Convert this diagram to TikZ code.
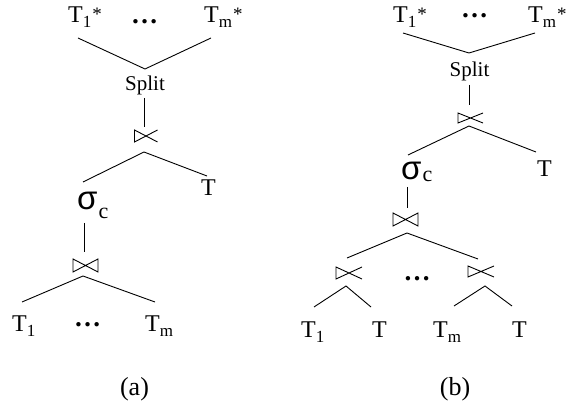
\documentclass[tikz,border=0pt]{standalone}
\usepackage{fontspec}
\setmainfont{Liberation Serif}
\newfontfamily\sigfont{Liberation Sans}
\newcommand\Tsb[1]{T\raisebox{-5pt}{\fontsize{17}{17}\selectfont #1}}
\newcommand\Tss[2]{T\raisebox{-5pt}{\fontsize{17}{17}\selectfont #1}\kern1pt\raisebox{2pt}{\fontsize{19}{19}\selectfont #2}}
\newcommand\sigc[1]{{\sigfont\fontsize{33}{33}\selectfont σ}\kern1pt\raisebox{-#1}{\fontsize{22}{22}\selectfont c}}
\newcommand\drawbowtie[1]{\draw[sym] (#1.north west) -- (#1.south east) -- (#1.north east) -- (#1.south west) -- cycle;}
\newcommand\drawsemi[1]{\draw[sym] (#1.north east) -- (#1.south west) -- (#1.north west) -- (#1.south east);}
\begin{document}
\begin{tikzpicture}[x=1pt,y=-1pt,
  lab/.style={inner sep=0pt, font=\fontsize{24}{24}\selectfont},
  splitlab/.style={inner sep=0pt, font=\fontsize{21}{21}\selectfont},
  dotslab/.style={inner sep=0pt, anchor=base, font=\fontsize{27}{27}\selectfont\bfseries},
  caplab/.style={inner sep=0pt, font=\fontsize{26}{26}\selectfont},
  joinbox/.style={inner sep=0pt, outer sep=0pt, minimum width=25pt, minimum height=12pt},
  tree/.style={line width=0.9pt},
  sym/.style={line width=0.9pt}]
\path[use as bounding box] (0,0) rectangle (571,411);

% ---------------- (a) ----------------
\node[lab, anchor=base west] (t1sa) at (68,23) {\Tss{1}{*}};
\node[dotslab] (dta) at (144.5,23.5) {…};
\node[lab, anchor=base west] (tmsa) at (204,23) {\Tss{m}{*}};
\node[splitlab, anchor=base] (spa) at (145,91) {Split};
\node[joinbox, minimum width=23pt] (ja1) at (146,136) {};
\node[lab, anchor=base west] (sca) at (77,210) {\sigc{9pt}};
\node[lab, anchor=base west] (ta) at (201,196) {T};
\node[joinbox, minimum height=13pt] (ja2) at (85.5,265.5) {};
\node[lab, anchor=base west] (t1a) at (12,332) {\Tsb{1}};
\node[dotslab] (dba) at (87.5,327) {…};
\node[lab, anchor=base west] (tma) at (145,332) {\Tsb{m}};
\node[caplab, anchor=base] (capa) at (134.5,396) {(a)};

\drawsemi{ja1}
\drawbowtie{ja2}

\draw[tree] ([shift={(10,15)}]t1sa.base west) -- ([shift={(0,-22)}]spa.base) -- ([shift={(7,15)}]tmsa.base west);
\draw[tree] ([shift={(-1,7)}]spa.base) -- ([shift={(-2,-9)}]ja1.center);
\draw[tree] ([shift={(6,-28)}]sca.base west) -- ([shift={(-2,16)}]ja1.center) -- ([shift={(6,-20)}]ta.base west);
\draw[tree] ([shift={(7,13)}]sca.base west) -- ([shift={(-1.5,-13.5)}]ja2.center);
\draw[tree] ([shift={(10,-30)}]t1a.base west) -- ([shift={(-2.5,10.5)}]ja2.center) -- ([shift={(10,-30)}]tma.base west);

% ---------------- (b) ----------------
\node[lab, anchor=base west] (t1sb) at (393,23) {\Tss{1}{*}};
\node[dotslab] (dtb) at (474.5,18) {…};
\node[lab, anchor=base west] (tmsb) at (528,23) {\Tss{m}{*}};
\node[splitlab, anchor=base] (spb) at (469.5,77) {Split};
\node[joinbox, minimum height=10pt] (jb1) at (470.5,118) {};
\node[lab, anchor=base west] (scb) at (401,180) {\sigc{2pt}};
\node[lab, anchor=base west] (tb) at (537,177) {T};
\node[joinbox, minimum height=13pt] (jb2) at (405.5,219.5) {};
\node[joinbox, minimum width=26pt] (jl) at (349,273) {};
\node[dotslab] (dbb) at (417,281) {…};
\node[joinbox, minimum width=26pt, minimum height=11pt] (jr) at (481,271.5) {};
\node[lab, anchor=base west] (t1b) at (301,338) {\Tsb{1}};
\node[lab, anchor=base west] (tlb) at (372,338) {T};
\node[lab, anchor=base west] (tmb) at (433,338) {\Tsb{m}};
\node[lab, anchor=base west] (trb) at (512,338) {T};
\node[caplab, anchor=base] (capb) at (455,396) {(b)};

\drawsemi{jb1}
\drawbowtie{jb2}
\drawsemi{jl}
\drawsemi{jr}

\draw[tree] ([shift={(10,10)}]t1sb.base west) -- ([shift={(-0.5,-24)}]spb.base) -- ([shift={(7,10)}]tmsb.base west);
\draw[tree] ([shift={(-0.5,8)}]spb.base) -- ([shift={(-1.5,-13)}]jb1.center);
\draw[tree] ([shift={(7,-25)}]scb.base west) -- ([shift={(-1.5,8)}]jb1.center) -- ([shift={(-1,-25)}]tb.base west);
\draw[tree] ([shift={(6,7)}]scb.base west) -- ([shift={(1.5,-11.5)}]jb2.center);
\draw[tree] ([shift={(-2,-15)}]jl.center) -- ([shift={(1.5,13.5)}]jb2.center) -- ([shift={(-3,-12.5)}]jr.center);
\draw[tree] ([shift={(13,-31)}]t1b.base west) -- ([shift={(-3,13)}]jl.center) -- ([shift={(-1,-31)}]tlb.base west);
\draw[tree] ([shift={(21,-32)}]tmb.base west) -- ([shift={(4,14.5)}]jr.center) -- ([shift={(0,-32)}]trb.base west);
\end{tikzpicture}
\end{document}
